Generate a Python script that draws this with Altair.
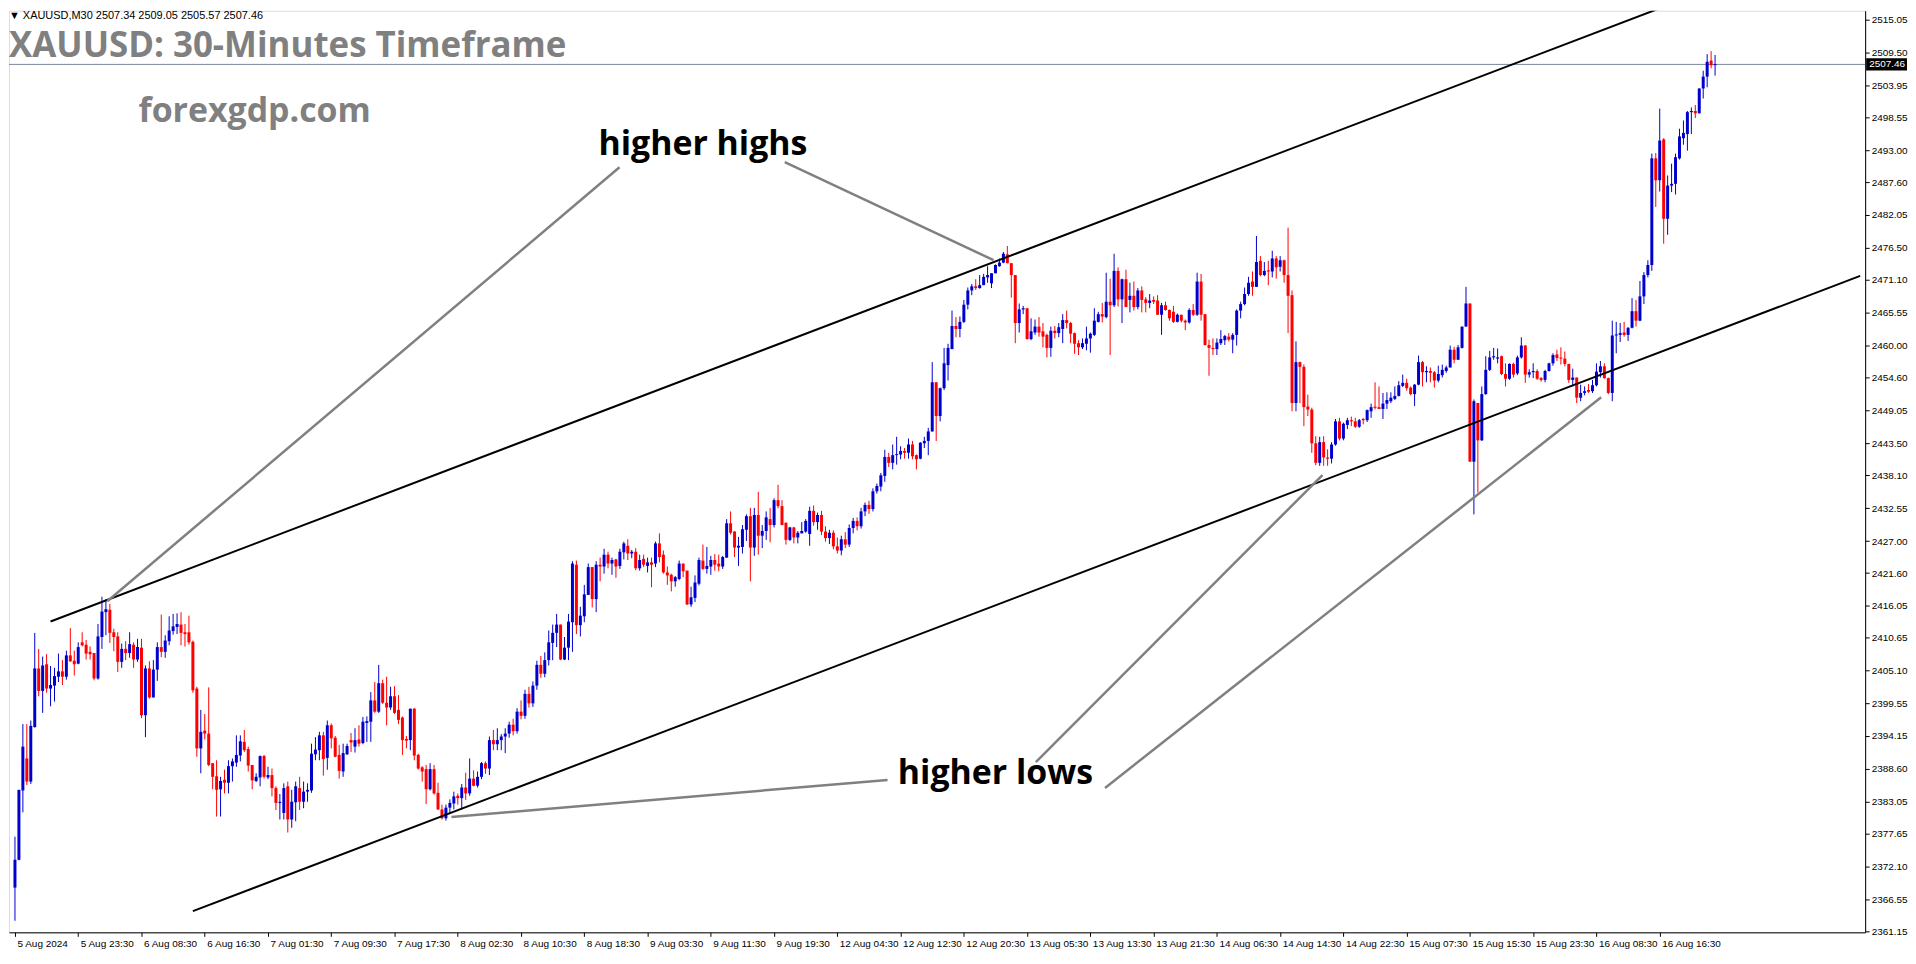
import altair as alt
import pandas as pd

# ---------------- candle data (30-minute bars) ----------------
OPEN = [
    2368.5, 2373.2, 2384.9, 2390.3, 2386.4, 2395.6, 2405.5, 2401.7, 2406.2, 2402.1,
    2402.6, 2404.1, 2405.0, 2404.1, 2407.7, 2406.8, 2406.3, 2409.9, 2409.5, 2408.3,
    2408.1, 2403.8, 2410.8, 2415.0, 2415.4, 2411.6, 2410.9, 2406.6, 2408.8, 2408.1,
    2409.5, 2407.0, 2409.0, 2397.6, 2405.5, 2400.6, 2405.3, 2409.1, 2408.3, 2410.1,
    2411.8, 2412.5, 2412.9, 2411.6, 2411.6, 2410.0, 2402.1, 2392.0, 2395.0, 2394.5,
    2389.5, 2387.3, 2385.1, 2386.7, 2386.2, 2389.0, 2389.6, 2390.8, 2393.1, 2391.9,
    2389.2, 2386.5, 2387.1, 2390.7, 2387.1, 2387.5, 2385.3, 2382.8, 2381.1, 2385.6,
    2380.0, 2382.9, 2385.3, 2383.0, 2384.7, 2384.9, 2391.0, 2391.7, 2394.2, 2390.4,
    2395.9, 2393.8, 2390.9, 2388.1, 2391.0, 2393.4, 2392.3, 2393.5, 2392.9, 2396.3,
    2396.5, 2400.1, 2398.2, 2403.0, 2399.7, 2398.9, 2400.8, 2398.5, 2397.2, 2393.6,
    2393.4, 2398.7, 2390.9, 2388.8, 2388.5, 2385.1, 2388.5, 2384.5, 2381.7, 2380.2,
    2382.0, 2382.7, 2384.0, 2383.6, 2385.4, 2384.4, 2386.9, 2385.7, 2387.2, 2389.5,
    2388.6, 2393.4, 2392.7, 2393.4, 2394.0, 2394.5, 2396.0, 2394.9, 2398.2, 2397.5,
    2401.2, 2399.6, 2402.6, 2406.1, 2404.6, 2406.9, 2409.8, 2411.5, 2412.9, 2407.0,
    2409.0, 2413.3, 2423.0, 2412.8, 2414.3, 2417.9, 2422.6, 2417.2, 2423.0, 2422.7,
    2424.7, 2423.2, 2423.9, 2422.8, 2425.1, 2426.2, 2424.9, 2425.2, 2422.4, 2424.0,
    2422.8, 2423.4, 2423.2, 2426.6, 2424.7, 2421.7, 2421.3, 2420.2, 2420.6, 2423.2,
    2422.0, 2416.3, 2417.4, 2419.8, 2423.7, 2422.3, 2422.7, 2423.8, 2423.2, 2422.7,
    2424.2, 2430.0, 2428.6, 2425.9, 2426.0, 2428.9, 2431.2, 2425.9, 2431.4, 2427.9,
    2428.7, 2430.7, 2429.7, 2433.9, 2432.9, 2430.1, 2427.2, 2429.3, 2427.6, 2428.3,
    2428.6, 2428.2, 2432.1, 2430.2, 2431.4, 2428.6, 2427.5, 2428.4, 2426.1, 2425.4,
    2427.3, 2426.4, 2429.2, 2430.4, 2429.5, 2432.0, 2433.1, 2432.4, 2435.4, 2436.2,
    2438.0, 2441.2, 2440.2, 2441.5, 2441.6, 2442.2, 2441.9, 2443.3, 2441.5, 2440.9,
    2443.5, 2443.9, 2445.5, 2453.8, 2448.1, 2452.8, 2456.7, 2459.4, 2463.3, 2462.8,
    2464.0, 2466.9, 2469.3, 2470.0, 2469.7, 2470.2, 2471.5, 2470.5, 2472.2, 2473.4,
    2474.0, 2475.4, 2473.9, 2471.9, 2463.8, 2466.1, 2466.3, 2461.1, 2462.2, 2463.2,
    2462.4, 2461.8, 2459.6, 2462.5, 2462.1, 2462.8, 2464.3, 2463.8, 2462.1, 2460.4,
    2459.7, 2460.3, 2461.2, 2461.8, 2464.0, 2465.3, 2464.8, 2467.4, 2466.8, 2472.6,
    2467.8, 2471.2, 2467.7, 2468.4, 2466.5, 2469.3, 2467.8, 2467.2, 2467.7, 2467.6,
    2465.2, 2466.8, 2466.0, 2465.7, 2464.0, 2465.2, 2464.2, 2463.9, 2466.0, 2465.2,
    2470.8, 2465.3, 2460.1, 2459.6, 2459.4, 2460.4, 2460.9, 2461.5, 2461.0, 2461.8,
    2465.9, 2467.0, 2468.7, 2470.8, 2469.9, 2474.3, 2471.9, 2472.7, 2472.5, 2474.7,
    2473.3, 2474.4, 2471.9, 2468.5, 2450.3, 2457.2, 2456.4, 2449.7, 2449.2, 2443.5,
    2440.2, 2443.7, 2441.1, 2440.9, 2443.3, 2447.2, 2444.3, 2446.6, 2447.4, 2447.2,
    2446.3, 2447.6, 2447.4, 2448.9, 2449.7, 2449.6, 2449.3, 2450.2, 2450.6, 2451.0,
    2451.5, 2453.2, 2453.7, 2452.9, 2451.8, 2453.4, 2457.2, 2455.5, 2455.7, 2455.5,
    2454.1, 2455.0, 2455.7, 2456.3, 2459.3, 2457.6, 2459.6, 2463.2, 2467.1, 2440.4,
    2450.3, 2444.0, 2451.8, 2455.9, 2458.0, 2457.8, 2458.2, 2455.2, 2454.4, 2456.9,
    2455.3, 2458.0, 2460.0, 2455.1, 2455.5, 2455.7, 2454.5, 2454.2, 2455.7, 2457.0,
    2458.5, 2457.9, 2457.8, 2456.9, 2454.2, 2454.6, 2451.2, 2452.0, 2452.5, 2452.3,
    2453.3, 2455.5, 2456.5, 2454.5, 2452.0, 2461.7, 2461.8, 2462.2, 2461.8, 2463.0,
    2465.8, 2464.2, 2468.3, 2471.9, 2473.6, 2491.6, 2487.9, 2494.8, 2481.4, 2487.0,
    2487.3, 2491.6, 2495.0, 2495.7, 2499.4, 2499.6, 2499.2, 2503.4, 2505.4, 2508.1,
    2507.34,
]
HIGH = [
    2377.1, 2385.0, 2396.1, 2396.1, 2396.7, 2411.5, 2408.8, 2407.5, 2407.9, 2405.9,
    2405.6, 2408.0, 2406.9, 2408.5, 2412.3, 2408.5, 2409.9, 2411.6, 2410.3, 2409.2,
    2408.1, 2413.0, 2417.6, 2417.2, 2416.4, 2412.2, 2411.6, 2409.7, 2410.1, 2411.6,
    2409.9, 2410.5, 2410.5, 2406.0, 2406.7, 2406.9, 2409.9, 2414.6, 2411.1, 2414.3,
    2414.7, 2414.8, 2415.0, 2413.0, 2414.4, 2410.2, 2402.4, 2398.5, 2397.8, 2402.3,
    2389.5, 2390.0, 2387.2, 2388.4, 2390.0, 2390.3, 2394.2, 2394.2, 2395.1, 2392.3,
    2389.2, 2387.8, 2390.8, 2390.9, 2388.9, 2388.6, 2385.6, 2384.3, 2386.1, 2386.4,
    2385.0, 2386.4, 2387.2, 2386.4, 2386.1, 2392.8, 2393.9, 2394.8, 2394.8, 2396.7,
    2396.2, 2394.1, 2392.6, 2392.8, 2392.8, 2394.6, 2395.4, 2395.9, 2397.3, 2397.4,
    2401.5, 2403.2, 2406.1, 2403.6, 2404.1, 2402.4, 2402.5, 2401.0, 2397.4, 2394.1,
    2398.7, 2398.8, 2391.1, 2389.0, 2389.2, 2389.5, 2389.2, 2386.2, 2382.5, 2382.5,
    2383.4, 2384.7, 2384.4, 2386.0, 2387.9, 2390.3, 2388.3, 2388.1, 2389.7, 2389.8,
    2394.0, 2395.1, 2395.4, 2394.4, 2395.4, 2396.5, 2397.0, 2398.8, 2400.1, 2401.9,
    2402.4, 2403.3, 2406.8, 2407.6, 2408.2, 2411.9, 2412.9, 2414.7, 2412.9, 2410.8,
    2414.7, 2423.6, 2423.7, 2415.9, 2419.6, 2423.2, 2422.6, 2423.6, 2424.2, 2425.7,
    2425.2, 2424.2, 2424.0, 2425.7, 2426.9, 2427.3, 2425.5, 2425.8, 2424.7, 2424.7,
    2424.2, 2424.2, 2426.9, 2428.3, 2425.4, 2422.7, 2421.5, 2421.1, 2423.7, 2423.2,
    2422.0, 2419.3, 2421.2, 2424.2, 2426.4, 2426.0, 2424.5, 2424.8, 2424.7, 2424.5,
    2430.7, 2432.0, 2428.7, 2427.7, 2429.7, 2431.5, 2432.6, 2432.6, 2435.3, 2429.7,
    2432.0, 2432.6, 2434.2, 2436.5, 2433.9, 2430.1, 2429.4, 2429.4, 2428.7, 2430.2,
    2430.7, 2432.8, 2433.0, 2431.8, 2432.1, 2429.5, 2428.9, 2428.8, 2427.6, 2427.9,
    2428.5, 2429.8, 2430.9, 2431.0, 2432.6, 2433.5, 2433.8, 2435.9, 2436.7, 2438.5,
    2442.4, 2441.9, 2443.3, 2444.6, 2443.0, 2442.7, 2444.3, 2443.9, 2441.6, 2443.7,
    2444.6, 2446.1, 2457.2, 2453.8, 2452.9, 2459.6, 2460.3, 2465.9, 2464.8, 2464.9,
    2467.7, 2469.8, 2470.4, 2471.2, 2471.9, 2472.1, 2473.4, 2472.2, 2473.7, 2474.7,
    2475.8, 2476.8, 2473.9, 2471.9, 2467.1, 2466.7, 2466.3, 2464.6, 2464.4, 2464.8,
    2463.8, 2462.0, 2463.2, 2463.3, 2463.8, 2465.3, 2465.9, 2464.0, 2462.2, 2460.9,
    2461.2, 2463.2, 2462.2, 2466.3, 2465.7, 2467.2, 2472.3, 2471.3, 2475.5, 2473.2,
    2471.3, 2472.8, 2470.6, 2470.8, 2469.7, 2470.0, 2468.2, 2468.7, 2468.3, 2468.5,
    2467.2, 2467.4, 2466.1, 2466.7, 2465.4, 2465.2, 2464.4, 2466.3, 2467.0, 2472.3,
    2472.1, 2465.3, 2461.0, 2461.2, 2461.2, 2462.6, 2461.8, 2462.1, 2462.1, 2466.1,
    2467.4, 2469.8, 2471.6, 2472.5, 2478.5, 2475.1, 2474.1, 2474.3, 2476.0, 2475.1,
    2475.1, 2474.5, 2479.9, 2469.3, 2460.7, 2457.3, 2456.8, 2451.7, 2449.5, 2444.7,
    2444.6, 2444.7, 2442.5, 2443.7, 2447.6, 2447.8, 2447.0, 2447.8, 2448.0, 2447.8,
    2447.6, 2447.8, 2449.2, 2450.2, 2453.8, 2453.1, 2452.0, 2452.1, 2452.1, 2453.1,
    2454.0, 2455.1, 2454.4, 2453.1, 2453.5, 2458.3, 2457.4, 2456.5, 2456.3, 2455.7,
    2456.6, 2456.8, 2456.6, 2460.0, 2459.8, 2460.1, 2463.2, 2469.9, 2467.1, 2450.9,
    2450.3, 2453.1, 2458.2, 2459.1, 2459.6, 2459.5, 2458.3, 2457.0, 2457.0, 2457.1,
    2458.3, 2461.4, 2460.1, 2456.0, 2457.0, 2456.0, 2454.7, 2455.9, 2457.1, 2458.7,
    2459.3, 2459.7, 2459.0, 2456.9, 2456.1, 2454.6, 2453.4, 2453.1, 2453.5, 2454.2,
    2457.0, 2457.4, 2457.0, 2454.6, 2464.2, 2464.0, 2463.8, 2464.0, 2463.1, 2468.0,
    2467.7, 2470.9, 2472.4, 2474.4, 2492.4, 2492.5, 2500.0, 2495.0, 2488.7, 2490.7,
    2492.4, 2496.6, 2498.0, 2499.6, 2500.2, 2500.6, 2503.4, 2506.4, 2509.2, 2509.7,
    2509.05,
]
LOW = [
    2362.9, 2373.1, 2381.2, 2385.8, 2386.0, 2395.5, 2400.8, 2398.0, 2401.4, 2399.1,
    2399.9, 2403.2, 2402.7, 2403.6, 2406.6, 2404.3, 2406.2, 2409.2, 2407.0, 2407.0,
    2403.5, 2403.6, 2408.8, 2411.1, 2409.8, 2408.4, 2404.9, 2405.6, 2406.9, 2407.3,
    2405.6, 2406.6, 2397.1, 2393.9, 2400.4, 2400.6, 2403.4, 2407.4, 2407.3, 2409.4,
    2411.2, 2411.3, 2409.4, 2409.2, 2409.5, 2401.4, 2390.6, 2387.8, 2393.5, 2389.0,
    2385.1, 2380.5, 2380.5, 2384.4, 2384.4, 2386.4, 2388.9, 2389.8, 2391.4, 2388.1,
    2385.1, 2386.3, 2385.6, 2386.9, 2386.8, 2383.9, 2381.6, 2380.0, 2380.0, 2377.8,
    2378.6, 2379.7, 2381.6, 2381.9, 2383.0, 2384.5, 2390.0, 2390.0, 2387.4, 2388.4,
    2392.0, 2390.5, 2386.9, 2387.2, 2390.9, 2391.4, 2391.3, 2392.3, 2392.7, 2393.1,
    2393.1, 2398.0, 2398.0, 2399.5, 2395.9, 2398.5, 2397.8, 2396.1, 2390.9, 2392.0,
    2391.7, 2390.0, 2388.4, 2386.4, 2382.6, 2384.9, 2384.2, 2381.6, 2380.0, 2379.8,
    2381.1, 2381.7, 2382.5, 2381.7, 2383.3, 2384.0, 2385.6, 2385.4, 2386.8, 2387.7,
    2387.5, 2391.7, 2391.7, 2391.7, 2391.2, 2393.8, 2394.2, 2394.5, 2396.9, 2397.0,
    2398.9, 2399.0, 2401.9, 2403.9, 2404.0, 2406.0, 2406.9, 2409.1, 2406.9, 2406.9,
    2406.9, 2408.3, 2411.3, 2410.9, 2413.3, 2417.9, 2415.8, 2415.0, 2420.2, 2421.5,
    2422.4, 2421.3, 2420.8, 2422.3, 2423.9, 2423.8, 2424.1, 2422.1, 2422.0, 2422.6,
    2421.7, 2419.2, 2422.6, 2423.4, 2421.5, 2419.6, 2418.5, 2419.3, 2420.4, 2420.9,
    2416.2, 2415.9, 2416.7, 2419.5, 2422.1, 2421.5, 2421.3, 2422.0, 2421.9, 2422.3,
    2424.2, 2428.1, 2424.3, 2422.8, 2424.9, 2427.0, 2420.2, 2424.5, 2424.7, 2425.8,
    2427.2, 2426.8, 2429.3, 2432.5, 2429.7, 2426.4, 2427.0, 2426.6, 2426.6, 2428.3,
    2428.4, 2426.2, 2429.6, 2428.9, 2428.0, 2426.9, 2426.5, 2425.6, 2424.9, 2424.6,
    2425.8, 2426.0, 2428.3, 2428.8, 2429.1, 2431.2, 2431.6, 2432.0, 2435.0, 2435.4,
    2437.0, 2439.5, 2439.1, 2439.9, 2440.8, 2440.9, 2440.9, 2440.8, 2439.1, 2440.8,
    2442.7, 2441.5, 2445.5, 2443.9, 2447.2, 2452.5, 2454.1, 2459.4, 2461.4, 2461.4,
    2463.8, 2466.1, 2468.5, 2469.4, 2469.6, 2470.2, 2470.6, 2469.7, 2472.2, 2473.3,
    2473.9, 2473.9, 2468.1, 2460.4, 2462.2, 2465.3, 2461.0, 2460.9, 2461.8, 2461.5,
    2459.7, 2458.0, 2458.1, 2461.2, 2461.4, 2460.4, 2462.9, 2460.4, 2458.6, 2458.4,
    2459.4, 2459.2, 2458.8, 2461.6, 2463.9, 2463.9, 2464.6, 2458.4, 2466.5, 2466.6,
    2463.8, 2466.5, 2465.6, 2465.9, 2466.1, 2465.6, 2465.6, 2466.3, 2467.0, 2465.2,
    2461.8, 2465.9, 2464.2, 2463.8, 2463.9, 2463.9, 2462.6, 2463.7, 2465.0, 2465.0,
    2464.2, 2460.0, 2454.9, 2458.4, 2458.4, 2460.1, 2460.1, 2460.7, 2458.7, 2460.0,
    2464.6, 2466.8, 2468.4, 2468.4, 2469.9, 2471.7, 2471.7, 2470.2, 2471.5, 2471.3,
    2472.5, 2470.6, 2462.1, 2448.9, 2448.9, 2450.3, 2446.4, 2448.1, 2441.9, 2439.8,
    2439.7, 2439.7, 2439.7, 2440.1, 2443.1, 2444.0, 2444.0, 2445.9, 2446.4, 2446.1,
    2446.1, 2446.7, 2447.1, 2447.8, 2449.2, 2449.3, 2447.6, 2449.3, 2450.3, 2450.8,
    2451.4, 2453.0, 2452.4, 2451.6, 2449.8, 2453.3, 2453.1, 2453.8, 2453.8, 2452.9,
    2453.8, 2454.6, 2455.4, 2456.3, 2457.0, 2457.6, 2459.5, 2463.2, 2440.4, 2431.5,
    2435.2, 2443.9, 2451.7, 2455.7, 2457.6, 2457.0, 2455.0, 2453.1, 2454.2, 2454.6,
    2455.0, 2457.8, 2453.7, 2454.6, 2454.5, 2454.2, 2453.9, 2453.8, 2455.6, 2456.6,
    2457.4, 2456.8, 2456.5, 2453.7, 2453.1, 2450.3, 2450.6, 2451.6, 2452.0, 2452.0,
    2453.1, 2454.6, 2454.4, 2451.8, 2450.6, 2458.7, 2460.6, 2461.5, 2460.8, 2462.9,
    2463.2, 2464.1, 2467.0, 2471.5, 2472.6, 2483.4, 2486.0, 2477.2, 2478.7, 2485.9,
    2485.5, 2491.4, 2493.9, 2492.9, 2495.7, 2498.4, 2499.2, 2501.7, 2503.6, 2506.8,
    2505.57,
]
CLOSE = [
    2373.2, 2385.0, 2392.3, 2386.4, 2395.8, 2405.5, 2401.7, 2406.0, 2402.1, 2402.7,
    2404.2, 2405.0, 2404.1, 2407.7, 2406.7, 2406.2, 2409.1, 2409.4, 2408.0, 2407.9,
    2403.8, 2410.9, 2415.1, 2415.5, 2411.5, 2410.8, 2406.6, 2408.8, 2408.1, 2409.6,
    2407.0, 2409.1, 2397.6, 2405.5, 2400.6, 2405.3, 2409.1, 2408.3, 2410.2, 2411.9,
    2412.6, 2413.0, 2411.5, 2411.3, 2409.9, 2401.8, 2392.0, 2394.8, 2394.5, 2389.2,
    2387.2, 2385.0, 2386.5, 2386.2, 2389.0, 2389.8, 2390.9, 2393.2, 2391.7, 2389.1,
    2386.6, 2387.2, 2390.7, 2387.2, 2387.5, 2385.3, 2382.8, 2382.9, 2385.3, 2380.0,
    2383.0, 2385.6, 2383.0, 2384.7, 2385.0, 2391.1, 2391.8, 2394.2, 2390.2, 2395.9,
    2393.7, 2390.6, 2388.2, 2391.2, 2392.4, 2393.0, 2393.4, 2392.8, 2396.5, 2396.6,
    2400.1, 2398.2, 2403.0, 2399.7, 2398.9, 2400.8, 2398.0, 2396.8, 2393.4, 2393.3,
    2398.7, 2390.8, 2388.6, 2388.1, 2385.1, 2388.5, 2384.4, 2381.7, 2380.2, 2382.0,
    2382.8, 2383.9, 2383.6, 2385.4, 2384.4, 2386.9, 2385.7, 2387.2, 2389.5, 2388.6,
    2393.4, 2392.7, 2393.4, 2394.0, 2394.5, 2396.0, 2394.9, 2398.2, 2397.5, 2401.2,
    2399.6, 2402.6, 2406.1, 2404.6, 2406.9, 2409.9, 2411.5, 2412.9, 2407.0, 2409.0,
    2413.4, 2423.2, 2412.8, 2414.4, 2418.0, 2422.6, 2417.2, 2423.0, 2422.7, 2424.7,
    2423.2, 2423.8, 2422.7, 2425.2, 2426.6, 2424.9, 2425.2, 2422.4, 2423.8, 2423.0,
    2423.4, 2423.0, 2426.6, 2424.3, 2421.7, 2421.2, 2420.2, 2420.9, 2423.2, 2421.9,
    2416.3, 2417.5, 2420.0, 2423.8, 2422.3, 2422.8, 2423.8, 2423.0, 2422.7, 2424.3,
    2430.0, 2428.4, 2425.9, 2426.2, 2429.0, 2431.2, 2425.9, 2431.4, 2427.9, 2428.7,
    2431.0, 2429.7, 2433.9, 2432.9, 2429.7, 2427.2, 2429.3, 2427.6, 2428.4, 2428.7,
    2430.4, 2432.1, 2430.2, 2431.4, 2428.6, 2427.5, 2428.4, 2426.1, 2425.4, 2427.3,
    2426.4, 2429.2, 2430.4, 2429.5, 2432.0, 2433.1, 2432.4, 2435.4, 2436.3, 2438.1,
    2441.2, 2440.2, 2441.5, 2441.6, 2442.2, 2441.9, 2443.3, 2441.3, 2440.8, 2443.6,
    2443.9, 2445.5, 2453.8, 2448.1, 2452.8, 2457.0, 2459.6, 2463.3, 2462.8, 2464.0,
    2466.9, 2469.3, 2470.0, 2469.7, 2470.2, 2471.6, 2471.9, 2472.2, 2473.6, 2474.0,
    2475.5, 2473.9, 2471.9, 2463.8, 2466.1, 2466.3, 2461.1, 2462.4, 2463.2, 2462.2,
    2461.5, 2459.6, 2462.5, 2462.1, 2463.1, 2464.3, 2463.8, 2462.0, 2460.3, 2459.7,
    2460.4, 2461.2, 2462.0, 2464.2, 2465.3, 2464.9, 2467.4, 2466.8, 2472.6, 2467.8,
    2471.2, 2466.5, 2468.4, 2466.5, 2469.3, 2467.7, 2467.2, 2467.6, 2467.4, 2465.2,
    2466.8, 2466.0, 2464.6, 2464.0, 2465.2, 2464.2, 2463.9, 2466.0, 2465.2, 2470.8,
    2465.2, 2460.1, 2459.6, 2459.4, 2460.5, 2461.1, 2461.6, 2461.0, 2461.8, 2465.9,
    2467.0, 2468.7, 2470.6, 2469.9, 2474.1, 2471.9, 2472.6, 2472.5, 2474.7, 2473.2,
    2474.4, 2471.9, 2468.4, 2450.3, 2457.2, 2456.4, 2449.6, 2449.2, 2443.5, 2440.2,
    2443.7, 2441.1, 2440.9, 2443.3, 2447.2, 2444.3, 2446.8, 2447.4, 2447.2, 2446.3,
    2447.4, 2447.4, 2449.1, 2449.6, 2449.5, 2449.3, 2450.2, 2450.8, 2451.2, 2451.5,
    2453.3, 2453.7, 2452.8, 2451.8, 2453.4, 2457.2, 2455.5, 2455.7, 2455.4, 2454.1,
    2455.2, 2455.9, 2456.3, 2459.3, 2457.6, 2459.7, 2463.2, 2467.1, 2440.4, 2450.6,
    2444.0, 2451.8, 2455.9, 2458.0, 2458.2, 2458.0, 2455.2, 2454.4, 2456.9, 2455.1,
    2458.0, 2460.0, 2455.1, 2455.5, 2455.7, 2454.4, 2454.2, 2455.7, 2457.0, 2458.4,
    2457.9, 2457.8, 2456.9, 2454.2, 2454.6, 2451.2, 2452.0, 2452.3, 2452.2, 2453.3,
    2455.6, 2456.5, 2454.5, 2452.0, 2461.7, 2461.8, 2462.1, 2461.8, 2463.0, 2465.8,
    2464.2, 2468.3, 2471.9, 2473.6, 2491.6, 2487.9, 2494.6, 2481.4, 2487.0, 2487.3,
    2491.8, 2495.3, 2495.9, 2499.4, 2499.6, 2499.2, 2503.4, 2505.4, 2507.9, 2507.3,
    2507.46,
]

TIME_LABELS = [
    "5 Aug 2024", "5 Aug 23:30", "6 Aug 08:30", "6 Aug 16:30", "7 Aug 01:30",
    "7 Aug 09:30", "7 Aug 17:30", "8 Aug 02:30", "8 Aug 10:30", "8 Aug 18:30",
    "9 Aug 03:30", "9 Aug 11:30", "9 Aug 19:30", "12 Aug 04:30", "12 Aug 12:30",
    "12 Aug 20:30", "13 Aug 05:30", "13 Aug 13:30", "13 Aug 21:30", "14 Aug 06:30",
    "14 Aug 14:30", "14 Aug 22:30", "15 Aug 07:30", "15 Aug 15:30", "15 Aug 23:30",
    "16 Aug 08:30", "16 Aug 16:30",
]
BARS_PER_LABEL = 16

PRICE_TICKS = [
    2515.05, 2509.50, 2503.95, 2498.55, 2493.00, 2487.60, 2482.05, 2476.50,
    2471.10, 2465.55, 2460.00, 2454.60, 2449.05, 2443.50, 2438.10, 2432.55,
    2427.00, 2421.60, 2416.05, 2410.65, 2405.10, 2399.55, 2394.15, 2388.60,
    2383.05, 2377.65, 2372.10, 2366.55, 2361.15,
]
BID = 2507.46

# trend channel lines (bar index, price)
TREND_ID = ["upper", "upper", "lower", "lower"]
TREND_BAR = [9.0, 417.85, 45.0, 466.7]
TREND_PRICE = [2413.42, 2517.40, 2364.53, 2471.76]

# grey pointer lines from the labels
POINTER_ID = ["a", "a", "b", "b", "c", "c", "d", "d", "e", "e"]
POINTER_BAR = [152.9, 23.35, 194.7, 247.5, 220.7, 110.4, 258.2, 330.7, 275.7, 401.2]
POINTER_PRICE = [2490.1, 2416.83, 2490.95, 2474.42, 2386.68, 2380.41,
                 2389.7, 2438.14, 2385.33, 2451.26]

NOTE_TEXT = ["higher highs", "higher lows"]
NOTE_BAR = [174.0, 248.0]
NOTE_PRICE = [2493.8, 2387.6]

HEADER = "\u25bc XAUUSD,M30  2507.34 2509.05 2505.57 2507.46"
TITLE = "XAUUSD: 30-Minutes Timeframe"
SITE = "forexgdp.com"

n = len(CLOSE)
assert len(OPEN) == n and len(HIGH) == n and len(LOW) == n, (len(OPEN), len(HIGH), len(LOW), n)

# ---------------- build tables ----------------
candles = pd.DataFrame({"i": list(range(n)), "o": OPEN, "h": HIGH, "l": LOW, "c": CLOSE})
candles["dir"] = ["up" if c >= o else "down" for o, c in zip(OPEN, CLOSE)]
candles["top"] = candles[["o", "c"]].max(axis=1)
candles["bot"] = candles[["o", "c"]].min(axis=1)
thin = (candles["top"] - candles["bot"]) < 0.17
candles.loc[thin, "top"] = candles.loc[thin, "bot"] + 0.17

trend = pd.DataFrame({"id": TREND_ID, "i": TREND_BAR, "p": TREND_PRICE})
pointers = pd.DataFrame({"id": POINTER_ID, "i": POINTER_BAR, "p": POINTER_PRICE})
notes = pd.DataFrame({"t": NOTE_TEXT, "i": NOTE_BAR, "p": NOTE_PRICE})
bid = pd.DataFrame({"p": [BID], "t": [f"{BID:.2f}"]})

W, H = 1863, 925
FONT = "Liberation Sans"

label_expr = "[" + ",".join("'%s'" % s for s in TIME_LABELS) + "][round(datum.value/%d)]" % BARS_PER_LABEL

xscale = alt.Scale(domain=[-0.25, 466.7], nice=False, zero=False)
yscale = alt.Scale(domain=[2360.95, 2516.52], nice=False, zero=False)

xaxis = alt.Axis(
    values=[k * BARS_PER_LABEL for k in range(len(TIME_LABELS))],
    labelExpr=label_expr, labelAlign="left", labelOffset=2, labelPadding=2,
    tickSize=4, tickColor="black", domainColor="black", labelColor="black",
    labelFont=FONT, labelFontSize=10, grid=False, title=None,
    labelOverlap=False, labelFlush=False, labelBound=False,
)
yaxis = alt.Axis(
    orient="right", values=PRICE_TICKS, format=".2f",
    tickSize=4, tickColor="black", domainColor="black", labelColor="black",
    labelFont=FONT, labelFontSize=10, labelPadding=2, grid=False, title=None,
    labelOverlap=False, labelFlush=False, labelBound=False,
)

color = alt.Color("dir:N", scale=alt.Scale(domain=["up", "down"], range=["#0000CD", "#FF0000"]), legend=None)

X = lambda f: alt.X(f, scale=xscale, axis=xaxis, title=None)
Y = lambda f: alt.Y(f, scale=yscale, axis=yaxis, title=None)

wicks = alt.Chart(candles).mark_rule(strokeWidth=1).encode(
    x=X("i:Q"), y=Y("l:Q"), y2="h:Q", color=color)
bodies = alt.Chart(candles).mark_bar(size=3).encode(
    x=X("i:Q"), y=Y("bot:Q"), y2="top:Q", color=color)

bid_line = alt.Chart(bid).mark_rule(color="#778899", strokeWidth=1).encode(y=Y("p:Q"))

trend_lines = alt.Chart(trend).mark_line(color="black", strokeWidth=2, clip=True).encode(
    x=X("i:Q"), y=Y("p:Q"), detail="id:N")
pointer_lines = alt.Chart(pointers).mark_line(color="#808080", strokeWidth=2.5, clip=True).encode(
    x=X("i:Q"), y=Y("p:Q"), detail="id:N")

note_text = alt.Chart(notes).mark_text(
    font="Open Sans", fontWeight="bold", fontSize=34, color="black",
    align="center", baseline="middle").encode(x=X("i:Q"), y=Y("p:Q"), text="t:N")

header = alt.Chart(pd.DataFrame({"t": [HEADER]})).mark_text(
    font=FONT, fontSize=11, color="black", align="left", baseline="middle"
).encode(x=alt.value(0), y=alt.value(5), text="t:N")
title = alt.Chart(pd.DataFrame({"t": [TITLE]})).mark_text(
    font="Open Sans", fontWeight="bold", fontSize=35, color="#808080", align="left", baseline="middle"
).encode(x=alt.value(0), y=alt.value(35), text="t:N")
site = alt.Chart(pd.DataFrame({"t": [SITE]})).mark_text(
    font="Open Sans", fontWeight="bold", fontSize=34, color="#808080", align="left", baseline="middle"
).encode(x=alt.value(130), y=alt.value(102), text="t:N")

bid_box = alt.Chart(bid).transform_calculate(
    y1="datum.p + 1.05", y2="datum.p - 1.05"
).mark_rect(color="black").encode(
    x=alt.value(W + 1), x2=alt.value(W + 42), y=Y("y1:Q"), y2="y2:Q")
bid_text = alt.Chart(bid).mark_text(
    font=FONT, fontSize=10, color="white", align="left", baseline="middle"
).encode(x=alt.value(W + 4), y=Y("p:Q"), text="t:N")

chart = alt.layer(
    bid_line, wicks, bodies, trend_lines, pointer_lines, note_text,
    header, title, site, bid_box, bid_text,
).properties(
    width=W, height=H, padding={"left": 0, "top": 0, "right": 0, "bottom": 0}
).configure_view(stroke="black", strokeWidth=1).configure(background="white")

chart.save("out.html", embed_options={"renderer": "svg", "actions": False})
